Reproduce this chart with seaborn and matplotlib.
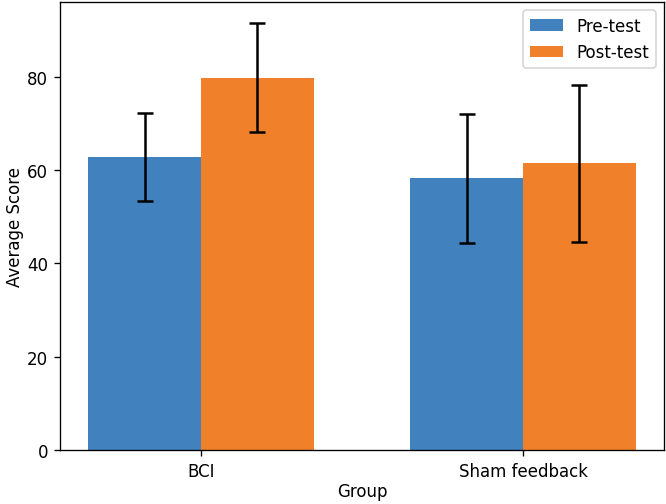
import matplotlib
matplotlib.use("Agg")
import matplotlib.pyplot as plt
import seaborn as sns
import pandas as pd
import numpy as np

groups = ["BCI", "Sham feedback"]
phases = ["Pre-test", "Post-test"]
pre_means = [62.8, 58.2]
post_means = [79.8, 61.4]
pre_sd = [9.5, 13.8]
post_sd = [11.6, 16.8]
colors = ["#4181bd", "#f0812a"]

rows = []
for i, g in enumerate(groups):
    rows.append({"Group": g, "Phase": phases[0], "Score": pre_means[i], "SD": pre_sd[i]})
    rows.append({"Group": g, "Phase": phases[1], "Score": post_means[i], "SD": post_sd[i]})
df = pd.DataFrame(rows)

DPI = 120
fig = plt.figure(figsize=(666 / DPI, 505 / DPI), dpi=DPI)
ax = fig.add_axes([60/666, 1 - 451/505, (664-60)/666, (451-3)/505])

sns.barplot(data=df, x="Group", y="Score", hue="Phase", order=groups,
            hue_order=phases, palette=colors, width=0.7, errorbar=None,
            saturation=1, ax=ax)

# error bars from patch positions
for cont, sds, means in zip(ax.containers, [pre_sd, post_sd], [pre_means, post_means]):
    xs = [p.get_x() + p.get_width() / 2 for p in cont.patches]
    ax.errorbar(xs, means, yerr=sds, fmt="none", ecolor="black", capsize=5, elinewidth=1.5, capthick=1.5)

ax.set_xlim(-0.4375, 1.4375)
ax.set_ylim(0, 96.0)
ax.set_yticks([0, 20, 40, 60, 80])
ax.set_xlabel("Group", labelpad=1.5)
ax.set_ylabel("Average Score", labelpad=2.0)
ax.legend(loc="upper right")

fig.savefig("out.png", dpi=DPI)
